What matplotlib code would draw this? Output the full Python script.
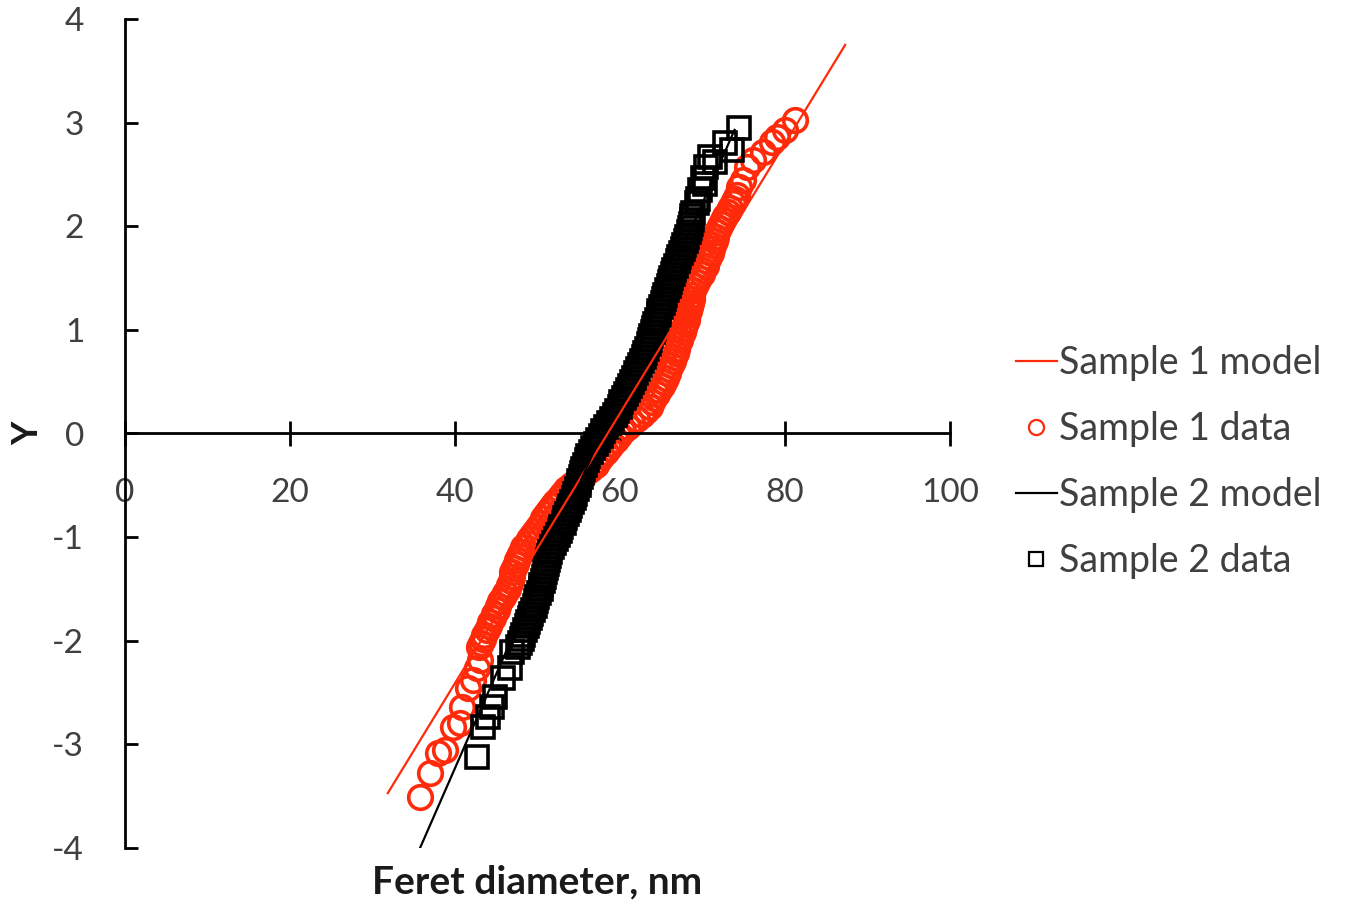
import matplotlib

matplotlib.use("Agg")
import matplotlib.pyplot as plt

# model lines (end points)
model1_x = [31.9, 87.3]
model1_y = [-3.47, 3.75]
model2_x = [35.8, 73.9]
model2_y = [-4.0, 2.93]

# Sample 1 data (red circles): upper tail, dense band, lower tail
s1_x = [81.2, 80.0, 79.1, 78.4, 77.3, 76.1, 75.4, 74.9, 74.5,
        74.2, 73.9, 73.7, 73.4, 73.1, 72.8, 72.5, 72.2, 72.0, 71.8,
        71.6, 71.5, 71.3, 71.2, 71.0, 70.8, 70.6, 70.4, 70.1, 69.9,
        69.6, 69.4, 69.1, 68.9, 68.8, 68.7, 68.6, 68.5, 68.4, 68.2,
        68.1, 67.9, 67.8, 67.6, 67.4, 67.3, 67.1, 66.9, 66.8, 66.6,
        66.4, 66.2, 66.0, 65.8, 65.6, 65.4, 65.1, 64.8, 64.5, 64.2,
        63.9, 63.6, 63.2, 62.7, 62.1, 61.5, 61.0, 60.4, 59.9, 59.5,
        59.1, 58.7, 58.3, 57.9, 57.5, 57.1, 56.5, 55.9, 55.3, 54.7,
        54.1, 53.5, 53.0, 52.6, 52.2, 51.8, 51.4, 51.0, 50.7, 50.4,
        50.1, 49.7, 49.4, 49.0, 48.7, 48.3, 48.0, 47.8, 47.6, 47.4,
        47.2, 47.0, 46.9, 46.8, 46.6, 46.4, 46.1, 45.8, 45.5, 45.3,
        45.1, 44.8, 44.6, 44.3, 44.1, 43.9, 43.6, 43.4, 43.2, 43.0,
        43.1, 42.7, 42.2, 41.6, 40.9, 40.6, 39.8, 38.8, 38.0, 37.0, 35.8]
s1_y = [3.03, 2.93, 2.86, 2.81, 2.72, 2.64, 2.57, 2.45, 2.38,
        2.30, 2.26, 2.22, 2.18, 2.14, 2.10, 2.06, 2.02, 1.98, 1.94,
        1.90, 1.86, 1.82, 1.78, 1.74, 1.70, 1.66, 1.62, 1.58, 1.54,
        1.50, 1.46, 1.42, 1.38, 1.34, 1.30, 1.26, 1.22, 1.18, 1.14,
        1.10, 1.06, 1.02, 0.98, 0.94, 0.90, 0.86, 0.82, 0.78, 0.74,
        0.70, 0.66, 0.62, 0.58, 0.54, 0.50, 0.46, 0.42, 0.38, 0.34,
        0.30, 0.26, 0.22, 0.18, 0.14, 0.10, 0.06, 0.02, -0.02, -0.06,
        -0.10, -0.14, -0.18, -0.22, -0.26, -0.30, -0.34, -0.38, -0.42, -0.46,
        -0.50, -0.54, -0.58, -0.62, -0.66, -0.70, -0.74, -0.78, -0.82, -0.86,
        -0.90, -0.94, -0.98, -1.02, -1.06, -1.10, -1.14, -1.18, -1.22, -1.26,
        -1.30, -1.34, -1.38, -1.42, -1.46, -1.50, -1.54, -1.58, -1.62, -1.66,
        -1.70, -1.74, -1.78, -1.82, -1.86, -1.90, -1.94, -1.98, -2.02, -2.06,
        -2.19, -2.26, -2.38, -2.46, -2.64, -2.79, -2.83, -3.05, -3.08, -3.28, -3.51]

# Sample 2 data (black squares): upper tail, dense band, lower tail
s2_x = [74.5, 72.7, 73.6, 70.9, 71.5, 70.5, 70.1, 70.3, 69.7, 69.5, 69.3, 68.9,
        68.8, 68.7, 68.6, 68.5, 68.4, 68.2, 68.0, 67.8, 67.6, 67.4,
        67.2, 67.0, 66.8, 66.6, 66.4, 66.2, 66.1, 65.9, 65.7, 65.5,
        65.4, 65.2, 65.0, 64.8, 64.7, 64.5, 64.3, 64.2, 64.0, 63.8,
        63.7, 63.5, 63.3, 63.1, 62.9, 62.7, 62.4, 62.2, 62.0, 61.7,
        61.5, 61.2, 61.0, 60.7, 60.5, 60.2, 60.0, 59.7, 59.4, 59.1,
        58.7, 58.3, 58.0, 57.7, 57.4, 57.1, 56.8, 56.5, 56.2, 56.0,
        55.8, 55.6, 55.4, 55.3, 55.1, 55.0, 54.8, 54.6, 54.4, 54.2,
        54.0, 53.8, 53.6, 53.4, 53.2, 52.9, 52.7, 52.5, 52.3, 52.0,
        51.8, 51.6, 51.4, 51.3, 51.2, 51.0, 50.9, 50.8, 50.7, 50.5,
        50.4, 50.2, 50.0, 49.9, 49.7, 49.5, 49.3, 49.1, 48.9, 48.7,
        48.5, 48.3, 48.1, 47.9, 47.7,
        47.0, 46.7, 45.8, 44.9, 44.5, 44.0, 43.4, 42.7]
s2_y = [2.95, 2.80, 2.74, 2.67, 2.62, 2.57, 2.47, 2.41, 2.35, 2.26, 2.22, 2.13,
        2.10, 2.06, 2.02, 1.98, 1.94, 1.90, 1.86, 1.82, 1.78, 1.74,
        1.70, 1.66, 1.62, 1.58, 1.54, 1.50, 1.46, 1.42, 1.38, 1.34,
        1.30, 1.26, 1.22, 1.18, 1.14, 1.10, 1.06, 1.02, 0.98, 0.94,
        0.90, 0.86, 0.82, 0.78, 0.74, 0.70, 0.66, 0.62, 0.58, 0.54,
        0.50, 0.46, 0.42, 0.38, 0.34, 0.30, 0.26, 0.22, 0.18, 0.14,
        0.10, 0.06, 0.02, -0.02, -0.06, -0.10, -0.14, -0.18, -0.22, -0.26,
        -0.30, -0.34, -0.38, -0.42, -0.46, -0.50, -0.54, -0.58, -0.62, -0.66,
        -0.70, -0.74, -0.78, -0.82, -0.86, -0.90, -0.94, -0.98, -1.02, -1.06,
        -1.10, -1.14, -1.18, -1.22, -1.26, -1.30, -1.34, -1.38, -1.42, -1.46,
        -1.50, -1.54, -1.58, -1.62, -1.66, -1.70, -1.74, -1.78, -1.82, -1.86,
        -1.90, -1.94, -1.98, -2.02, -2.06,
        -2.11, -2.26, -2.36, -2.54, -2.64, -2.74, -2.83, -3.12]

x_ticks = [0, 20, 40, 60, 80, 100]
y_ticks = [-4, -3, -2, -1, 0, 1, 2, 3, 4]

RED = "#ff2a0a"
GREY = "#404040"

plt.rcParams["font.family"] = ["Lato", "DejaVu Sans"]
plt.rcParams["axes.unicode_minus"] = False

fig = plt.figure(figsize=(13.5, 9.05), dpi=100)
ax = fig.add_axes([124.5 / 1350, 1 - 848 / 905, (950 - 124.5) / 1350, (848 - 19) / 905])

ax.plot(s1_x, s1_y, linestyle="none", marker="o", markersize=17,
        markerfacecolor="none", markeredgecolor=RED, markeredgewidth=2.6,
        label="Sample 1 data", zorder=2)
ax.plot(model1_x, model1_y, color=RED, linewidth=1.6, label="Sample 1 model", zorder=4)
ax.plot(s2_x, s2_y, linestyle="none", marker="s", markersize=15.5,
        markerfacecolor="none", markeredgecolor="black", markeredgewidth=2.6,
        label="Sample 2 data", zorder=3)
ax.plot(model2_x, model2_y, color="black", linewidth=1.6, label="Sample 2 model", zorder=5)

ax.set_xlim(0, 100)
ax.set_ylim(-4, 4)
ax.spines["left"].set_position(("data", 0))
ax.spines["bottom"].set_position(("data", 0))
ax.spines["top"].set_visible(False)
ax.spines["right"].set_visible(False)
for s in ("left", "bottom"):
    ax.spines[s].set_linewidth(2)

ax.set_xticks(x_ticks)
ax.set_yticks(y_ticks)
ax.tick_params(axis="x", direction="inout", length=18, width=2, pad=23,
               labelsize=24, labelcolor=GREY)
ax.tick_params(axis="y", direction="in", length=9, width=2, pad=29,
               labelsize=24, labelcolor=GREY)

fig.text(537 / 1350, 1 - 882 / 905, "Feret diameter, nm", ha="center", va="center",
         fontsize=28, fontweight="bold", color="#1a1a1a")
fig.text(28 / 1350, 1 - 433.5 / 905, "Y", ha="center", va="center", rotation=90,
         fontsize=26, fontweight="bold", color="#1a1a1a")

handles, labels = ax.get_legend_handles_labels()
order = [1, 0, 3, 2]
leg = fig.legend([handles[i] for i in order], [labels[i] for i in order],
                 loc="center left", bbox_to_anchor=(982 / 1350, 1 - 462 / 905),
                 frameon=False, fontsize=27, labelcolor=GREY, handlelength=1.1,
                 handletextpad=0.05, labelspacing=0.8, markerscale=0.64)
for h in leg.legend_handles:
    h.set_markeredgewidth(1.6)

fig.savefig("out.png", dpi=100)
